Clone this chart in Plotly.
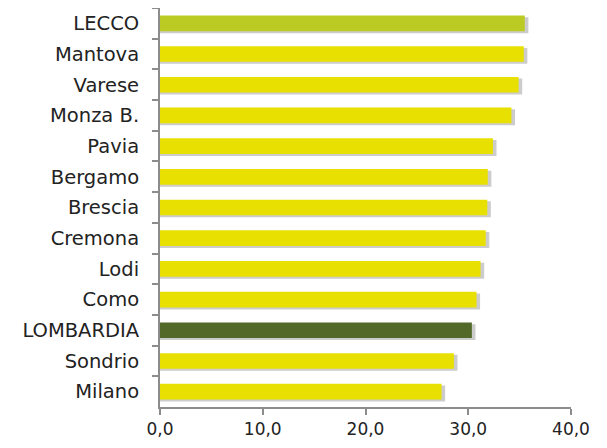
import plotly.graph_objects as go

categories = ["LECCO", "Mantova", "Varese", "Monza B.", "Pavia", "Bergamo", "Brescia",
              "Cremona", "Lodi", "Como", "LOMBARDIA", "Sondrio", "Milano"]
values = [35.5, 35.4, 34.9, 34.2, 32.4, 31.9, 31.85, 31.7, 31.2, 30.8, 30.35, 28.6, 27.4]

color_map = {"LECCO": "#BCCB24", "LOMBARDIA": "#52692A"}
colors = [color_map.get(c, "#E8E000") for c in categories]

font_family = "DejaVu Sans, Lato, sans-serif"

fig = go.Figure()
# soft shadow
fig.add_trace(go.Bar(
    y=categories, x=[v + 0.35 for v in values], orientation="h",
    marker=dict(color="rgba(110,110,110,0.35)", line=dict(width=0)),
    width=0.52, offset=-0.2, hoverinfo="skip", showlegend=False,
))
fig.add_trace(go.Bar(
    y=categories, x=values, orientation="h",
    marker=dict(color=colors, line=dict(width=0)),
    width=0.51, offset=-0.255, showlegend=False,
))

fig.update_layout(
    width=599, height=440,
    margin=dict(l=152, r=36, t=0, b=41, autoexpand=False),
    plot_bgcolor="white", paper_bgcolor="white",
    barmode="overlay",
    separators=", ",
    font=dict(family=font_family, size=16, color="#222222"),
    xaxis=dict(
        range=[0, 40], tickvals=[0, 10, 20, 30, 40], tickformat=".1f",
        showgrid=False, zeroline=False, automargin=False,
        showline=True, linecolor="#8C8C8C", linewidth=2,
        ticks="outside", ticklen=6, tickwidth=2, tickcolor="#8C8C8C",
        tickfont=dict(size=17, color="#222222"),
    ),
    yaxis=dict(
        categoryorder="array", categoryarray=categories, autorange="reversed",
        showgrid=False, zeroline=False, automargin=False,
        showline=True, linecolor="#8C8C8C", linewidth=2,
        ticks="outside", ticklen=6, tickwidth=2, tickcolor="#8C8C8C",
        tickson="boundaries", ticklabelstandoff=15,
        tickfont=dict(size=19.5, color="#222222"),
    ),
)

fig.write_html("out.html")
